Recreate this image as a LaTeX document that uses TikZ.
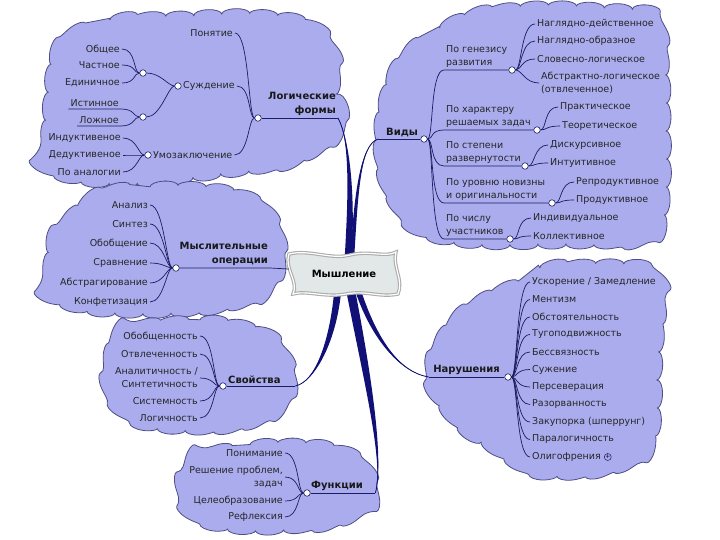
\documentclass[tikz,border=0pt]{standalone}
\usepackage{fontspec}
\setmainfont{DejaVu Sans}
\usetikzlibrary{positioning,calc,backgrounds,decorations.pathmorphing}

\definecolor{cloudfill}{RGB}{170,172,238}
\definecolor{cloudline}{RGB}{78,78,132}
\definecolor{linkcol}{RGB}{28,28,96}
\definecolor{trunkcol}{RGB}{16,16,118}
\definecolor{bannerfill}{RGB}{226,231,232}

\newcommand{\leafsize}{\fontsize{9.5}{13}\selectfont}
\newcommand{\topicsize}{\fontsize{10}{14}\selectfont}

% tapered main branch: start, control 1, control 2, end, half width
\newcommand{\trunk}[5]{%
  \fill[trunkcol] ($(#1)+(-#5,0)$) .. controls ($(#2)+(-#5,0)$) and (#3) .. (#4)
    .. controls (#3) and ($(#2)+(#5,0)$) .. ($(#1)+(#5,0)$) -- cycle;
  \draw[trunkcol, line width=0.8pt] (#1) .. controls (#2) and (#3) .. (#4);}

\tikzset{
  cloudy/.style={fill=cloudfill, draw=cloudline, line width=0.8pt, decorate,
    decoration={bumps, segment length=56pt, amplitude=5pt}},
  leaf/.style={font=\leafsize, text=black!85, inner sep=2pt},
  topic/.style={font=\topicsize\bfseries, text=black!90, inner sep=2pt},
  hub/.style={circle, draw=linkcol, fill=white, line width=0.6pt, inner sep=0pt, minimum size=6.5pt},
  link/.style={draw=linkcol, line width=0.7pt},
  rfan/.style={out=0, in=180, out distance=6pt, in distance=14pt},
  lfan/.style={out=180, in=0, out distance=6pt, in distance=14pt},
}

\begin{document}
\begin{tikzpicture}[x=1pt, y=-1pt]
\useasboundingbox (0,0) rectangle (720,540);

\begin{scope}[on background layer]
  \fill[white] (0,0) rectangle (720,540);
  % clouds
  \path[cloudy] plot[smooth cycle] coordinates {(62,40) (110,20) (180,16) (250,14) (305,22) (332,50) (336,85) (344,115) (330,140) (290,163) (220,174) (150,182) (95,182) (52,172) (46,145) (48,100) (52,65)};
  \path[cloudy] plot[smooth cycle] coordinates {(410,50) (440,28) (480,12) (540,6) (600,8) (652,14) (664,60) (666,120) (666,180) (660,228) (630,242) (560,244) (480,244) (425,234) (392,200) (380,160) (380,120) (390,80)};
  \path[cloudy] plot[smooth cycle] coordinates {(95,195) (150,187) (210,188) (255,200) (276,228) (280,262) (263,293) (220,308) (160,313) (95,311) (52,298) (48,270) (55,235)};
  \path[cloudy] plot[smooth cycle] coordinates {(130,328) (200,320) (258,330) (286,358) (290,392) (268,416) (220,429) (150,426) (112,400) (110,350)};
  \path[cloudy] plot[smooth cycle] coordinates {(200,455) (250,445) (310,444) (353,455) (371,480) (368,505) (330,524) (260,530) (205,523) (184,500) (187,470)};
  \path[cloudy] plot[smooth cycle] coordinates {(510,285) (540,268) (600,264) (648,268) (660,300) (658,360) (656,420) (644,454) (600,472) (540,474) (505,456) (465,431) (435,395) (432,360) (450,325) (480,300)};
\end{scope}

% centre
\path[draw=gray!65, line width=1.1pt, double=white, double distance=1.2pt, fill=bannerfill]
  (289,254) .. controls (310,249) and (330,260) .. (350,255) .. controls (370,250) and (385,258) .. (396,252)
  .. controls (392,266) and (404,280) .. (398,294) .. controls (380,298) and (366,290) .. (346,294)
  .. controls (326,298) and (306,290) .. (293,294) .. controls (299,282) and (284,268) .. (289,254) -- cycle;
\node[font=\topicsize\bfseries, minimum width=110pt, minimum height=42pt] (ctr) at (344,274) {Мышление};

% Логические формы
\node[topic, anchor=south east, align=right] (lf) at (338,118) {Логические\\формы};
\node[hub] (lfhub) at (258,118) {};
\node[leaf, anchor=east] (pon) at (235,33) {Понятие};
\node[leaf, anchor=west] (sud) at (181,86) {Суждение};
\node[hub] (sudhub) at (178,86) {};
\node[leaf, anchor=west] (umo) at (151,155) {Умозаключение};
\node[hub] (umohub) at (148,155) {};
\node[hub] (obhub) at (143,73) {};
\node[hub] (isthub) at (143,117) {};
\foreach \t/\y [count=\i] in {Общее/49, Частное/65, Единичное/83} {
  \node[leaf, anchor=east] (ob\i) at (122,\y) {\t};
  \draw[link] (obhub) to[lfan] (ob\i.east);
}
\node[leaf, anchor=south east] (ist) at (121,109) {Истинное};
\node[leaf, anchor=south east] (lozh) at (121,126) {Ложное};
\foreach \t/\y [count=\i] in {Индуктивеное/138, Дедуктивеное/155, По аналогии/172} {
  \node[leaf, anchor=east] (um\i) at (123,\y) {\t};
  \draw[link] (umohub) to[lfan] (um\i.east);
}
\draw[link] (lfhub) -- (lf.south east);
\draw[link] (lfhub) to[lfan] (pon.east);
\draw[link] (lfhub) to[lfan] (sud.east);
\draw[link] (lfhub) to[lfan] (umo.east);
\draw[link] (sudhub) to[lfan] (obhub);
\draw[link] (sudhub) to[lfan] (isthub);
\draw[link] (isthub) to[lfan] (ist.south east) -- (ist.south west);
\draw[link] (isthub) to[lfan] (lozh.south east) -- (lozh.south west);

% Виды
\node[topic, anchor=south west, inner xsep=8pt] (vidy) at (378,139) {Виды};
\node[hub] (vidyhub) at (424,139) {};
\draw[link] (vidy.south west) -- (vidyhub);
\node[leaf, anchor=south west, align=left] (gen) at (444,70) {По генезису\\развития};
\node[leaf, anchor=south west, align=left] (char) at (444,130) {По характеру\\решаемых задач};
\node[leaf, anchor=south west, align=left] (step) at (444,166) {По степени\\развернутости};
\node[leaf, anchor=south west, align=left] (nov) at (444,203) {По уровню новизны\\и оригинальности};
\node[leaf, anchor=south west, align=left] (num) at (444,239) {По числу\\участников};
\node[hub] (genhub) at (512,70) {};
\node[hub] (charhub) at (537,130) {};
\node[hub] (stephub) at (525,166) {};
\node[hub] (novhub) at (552,203) {};
\node[hub] (numhub) at (510,239) {};
\foreach \s in {gen, char, step, nov, num}
  \draw[link] (vidyhub) to[rfan] (\s.south west) -- (\s hub);
\foreach \t/\y [count=\i] in {Наглядно-действенное/24, Наглядно-образное/41, Словесно-логическое/59} {
  \node[leaf, anchor=west] (g\i) at (535,\y) {\t};
  \draw[link] (genhub) to[rfan] (g\i.west);
}
\node[leaf, anchor=west, align=left] (g4) at (539,83) {Абстрактно-логическое\\(отвлеченное)};
\draw[link] (genhub) to[rfan] (g4.west);
\node[leaf, anchor=west] (c1) at (558,107) {Практическое};
\node[leaf, anchor=west] (c2) at (560,126) {Теоретическое};
\node[leaf, anchor=west] (st1) at (548,145) {Дискурсивное};
\node[leaf, anchor=west] (st2) at (548,163) {Интуитивное};
\node[leaf, anchor=west] (nv1) at (574,182) {Репродуктивное};
\node[leaf, anchor=west] (nv2) at (574,200) {Продуктивное};
\node[leaf, anchor=west] (nm1) at (531,218) {Индивидуальное};
\node[leaf, anchor=west] (nm2) at (531,236) {Коллективное};
\foreach \h/\a in {charhub/c, stephub/st, novhub/nv, numhub/nm} {
  \draw[link] (\h) to[rfan] (\a1.west);
  \draw[link] (\h) to[rfan] (\a2.west);
}

% Мыслительные операции
\node[topic, anchor=south east, align=right] (mo) at (270,268) {Мыслительные\\операции};
\node[hub] (mohub) at (176,268) {};
\draw[link] (mohub) -- (mo.south east) -- ([yshift=5pt]ctr.west);
\foreach \t/\y [count=\i] in {Анализ/205, Синтез/224, Обобщение/243, Сравнение/263, Абстрагирование/283, Конфетизация/302} {
  \node[leaf, anchor=east] (mo\i) at (150,\y) {\t};
  \draw[link] (mohub) to[lfan] (mo\i.east);
}

% Свойства
\node[topic, anchor=south west, text width=65pt, align=left] (sv) at (226,386) {Свойства};
\node[hub] (svhub) at (223,386) {};
\draw[link] (svhub) -- (sv.south east);
\node[leaf, anchor=east] (sv1) at (200,336) {Обобщенность};
\node[leaf, anchor=east] (sv2) at (200,354) {Отвлеченность};
\node[leaf, anchor=east, align=right] (sv3) at (200,378) {Аналитичность /\\Синтетичность};
\node[leaf, anchor=east] (sv4) at (200,401) {Системность};
\node[leaf, anchor=east] (sv5) at (200,418) {Логичность};
\foreach \i in {1,...,5}
  \draw[link] (svhub) to[lfan] (sv\i.east);

% Функции
\node[topic, anchor=south west, text width=62pt, align=left] (fu) at (309,493) {Функции};
\node[hub] (fuhub) at (307,493) {};
\draw[link] (fuhub) -- (fu.south east);
\node[leaf, anchor=east] (fu1) at (285,453) {Понимание};
\node[leaf, anchor=east, align=right] (fu2) at (285,477) {Решение проблем,\\задач};
\node[leaf, anchor=east] (fu3) at (285,501) {Целеобразование};
\node[leaf, anchor=east] (fu4) at (285,517) {Рефлексия};
\foreach \i in {1,...,4}
  \draw[link] (fuhub) to[lfan] (fu\i.east);

% Нарушения
\node[topic, anchor=south east, text width=69pt, align=right] (na) at (502,377) {Нарушения};
\node[hub] (nahub) at (508,377) {};
\draw[link] (na.south west) -- (nahub);
\foreach \t [count=\i from 0] in {Ускорение / Замедление, Ментизм, Обстоятельность, Тугоподвижность,
    Бессвязность, Сужение, Персеверация, Разорванность, Закупорка (шперрунг), Паралогичность, Олигофрения} {
  \node[leaf, anchor=west] (na\i) at (530,{282+17.5*\i}) {\t};
  \draw[link] (nahub) to[rfan] (na\i.west);
}
\node[circle, draw=linkcol, line width=0.5pt, inner sep=0pt, minimum size=7pt, font=\fontsize{6}{6}\selectfont, right=1pt of na10] (olplus) {+};

% main branches
\coordinate (s1) at ([xshift=4pt,yshift=-8pt]ctr.north);
\coordinate (s2) at ([xshift=8pt,yshift=-8pt]ctr.north);
\coordinate (s3) at ([xshift=-6pt,yshift=8pt]ctr.south);
\coordinate (s4) at ([xshift=6pt,yshift=8pt]ctr.south);
\coordinate (s5) at ([xshift=13pt,yshift=8pt]ctr.south);
\begin{scope}[on background layer]
  \trunk{s1}{352,195}{350,140}{lf.south east}{3.5}
  \trunk{s2}{356,195}{360,145}{vidy.south west}{2}
  \trunk{s3}{334,340}{315,382}{sv.south east}{3.5}
  \trunk{s4}{368,380}{384,462}{fu.south east}{4.5}
  \trunk{s5}{372,335}{398,372}{na.south west}{3}
\end{scope}
\end{tikzpicture}
\end{document}
